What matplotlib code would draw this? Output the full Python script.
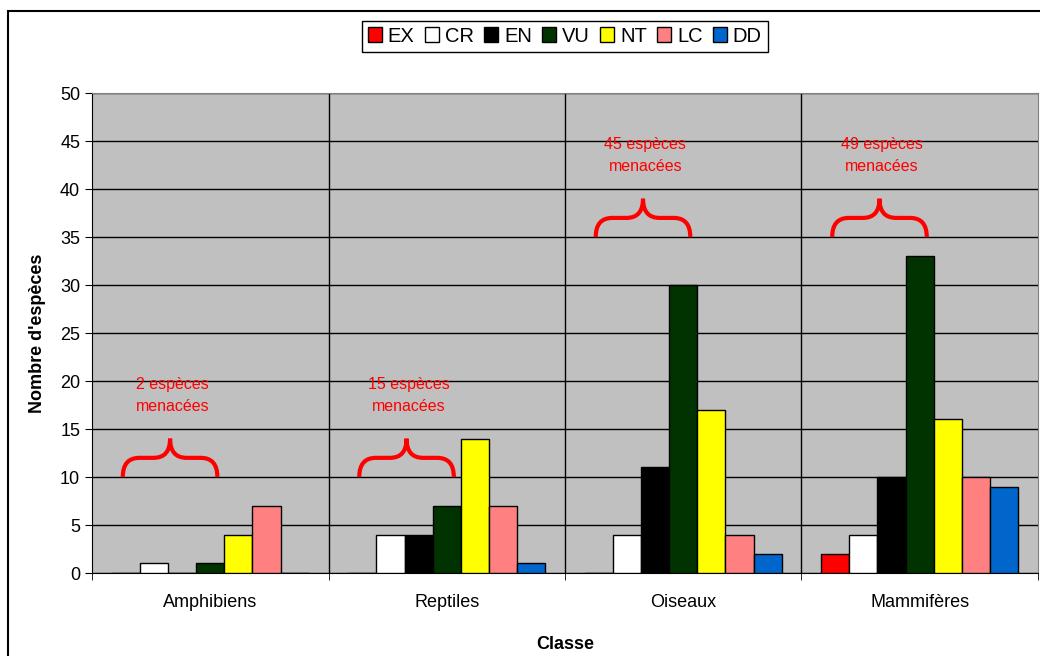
import matplotlib
matplotlib.use('Agg')
import matplotlib.pyplot as plt
from matplotlib.patches import PathPatch, Rectangle
from matplotlib.path import Path
import numpy as np

plt.rcParams['font.family'] = ['Liberation Sans', 'DejaVu Sans']

classes = ["Amphibiens", "Reptiles", "Oiseaux", "Mammifères"]
statuses = ["EX", "CR", "EN", "VU", "NT", "LC", "DD"]
colors = ["#FF0000", "#FFFFFF", "#000000", "#003300", "#FFFF00", "#FF8080", "#0066CC"]

counts = {
    "EX": [0, 0, 0, 2],
    "CR": [1, 4, 4, 4],
    "EN": [0, 4, 11, 10],
    "VU": [1, 7, 30, 33],
    "NT": [4, 14, 17, 16],
    "LC": [7, 7, 4, 10],
    "DD": [0, 1, 2, 9],
}

# threatened species notes: label and brace base level
threatened = [2, 15, 45, 49]
brace_level = [10, 10, 35, 35]

fig = plt.figure(figsize=(10.4, 6.56), dpi=100)
ax = fig.add_axes([0.0885, 0.1265, 0.9095, 0.7315])
ax.set_facecolor("#C0C0C0")

x = np.arange(len(classes))
bw = 0.119
for i, s in enumerate(statuses):
    offs = (i - 3) * bw
    ax.bar(x + offs, counts[s], width=bw, color=colors[i], edgecolor="black",
           linewidth=1, label=s, zorder=3)

ax.set_xlim(-0.5, 3.5)
ax.set_ylim(0, 50)
ax.set_yticks(range(0, 51, 5))
ax.yaxis.grid(True, color="black", linewidth=1)
ax.set_axisbelow(True)
for b in [0.5, 1.5, 2.5]:
    ax.axvline(b, color="black", linewidth=1, zorder=1)

ax.set_xticks(x)
ax.set_xticklabels(classes, fontsize=13)
ax.set_xticks(np.arange(-0.5, 4, 1), minor=True)
ax.tick_params(axis="x", which="major", length=0, pad=15)
ax.tick_params(axis="x", which="minor", length=5, color="black")
ax.tick_params(axis="y", labelsize=13, length=5)

for sp in ["top", "right"]:
    ax.spines[sp].set_color("#808080")
for sp in ["left", "bottom"]:
    ax.spines[sp].set_color("black")

ax.set_xlabel("Classe", fontsize=13, fontweight="bold", labelpad=18)
ax.set_ylabel("Nombre d'espèces", fontsize=13, fontweight="bold", labelpad=10)


def brace(ax, x0, x1, yb, h=4, dx=0.07):
    xm = (x0 + x1) / 2
    ym = yb + h / 2
    verts = [(x0, yb), (x0, ym), (x0 + dx, ym),
             (xm - dx, ym), (xm, ym), (xm, yb + h),
             (xm, ym), (xm + dx, ym),
             (x1 - dx, ym), (x1, ym), (x1, yb)]
    codes = [Path.MOVETO, Path.CURVE3, Path.CURVE3,
             Path.LINETO, Path.CURVE3, Path.CURVE3,
             Path.CURVE3, Path.CURVE3,
             Path.LINETO, Path.CURVE3, Path.CURVE3]
    ax.add_patch(PathPatch(Path(verts, codes), fill=False, edgecolor="red",
                           linewidth=3, zorder=4, capstyle="butt"))


for i, (n, lvl) in enumerate(zip(threatened, brace_level)):
    brace(ax, i - 0.37, i + 0.03, lvl)
    ax.text(i - 0.16, lvl + 8.5, f"{n} espèces\nmenacées", color="red",
            fontsize=11.5, ha="center", va="center", linespacing=1.55, zorder=5)

leg = fig.legend(loc="center", bbox_to_anchor=(0.543, 0.945), ncol=7,
                 fontsize=14.5, handlelength=0.7, handleheight=0.7,
                 handletextpad=0.3, columnspacing=0.5, borderpad=0.3,
                 fancybox=False, edgecolor="black", framealpha=1)
leg.get_frame().set_linewidth(1)

# outer chart border
fig.add_artist(Rectangle((0.008, -0.1), 1.2, 1.083, transform=fig.transFigure,
                         fill=False, edgecolor="black", linewidth=1.5))

fig.savefig("out.png", dpi=100)
